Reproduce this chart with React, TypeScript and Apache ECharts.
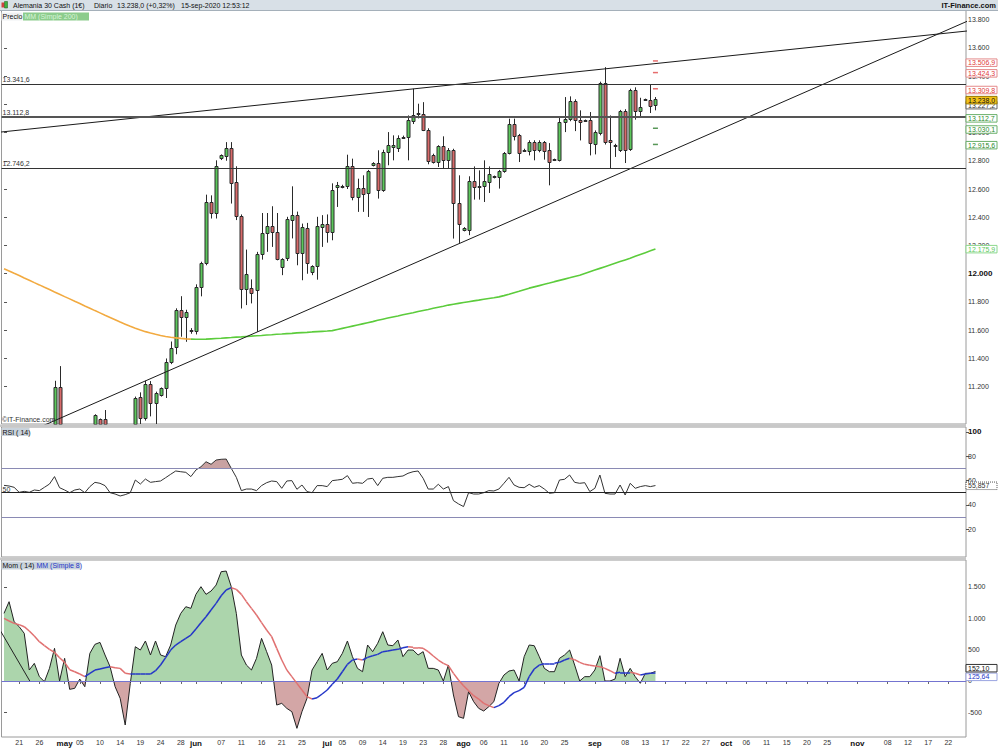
import React, { useEffect, useRef } from "react";
import * as echarts from "echarts";

const FONT = "'Liberation Sans', Arial, sans-serif";
const N_BARS = 191;
const MONTHS = ["ene", "feb", "mar", "abr", "may", "jun", "jul", "ago", "sep", "oct", "nov", "dic"];

const LABEL_DATES = [
  "2020-04-21", "2020-04-26", "2020-05-01", "2020-05-05", "2020-05-10", "2020-05-14", "2020-05-19",
  "2020-05-24", "2020-05-28", "2020-06-01", "2020-06-07", "2020-06-11", "2020-06-16", "2020-06-21",
  "2020-06-25", "2020-07-01", "2020-07-05", "2020-07-09", "2020-07-14", "2020-07-19", "2020-07-23",
  "2020-07-28", "2020-08-02", "2020-08-06", "2020-08-11", "2020-08-16", "2020-08-20", "2020-08-25",
  "2020-09-01", "2020-09-08", "2020-09-13", "2020-09-17", "2020-09-22", "2020-09-27", "2020-10-01",
  "2020-10-06", "2020-10-11", "2020-10-15", "2020-10-20", "2020-10-25", "2020-11-01", "2020-11-08",
  "2020-11-12", "2020-11-17", "2020-11-22",
];

const PRICE_TICKS = [11200, 11400, 11600, 11800, 12000, 12200, 12400, 12600, 12800, 13000, 13200, 13400, 13600, 13800];
const RSI_TICKS = [20, 40, 60, 80, 100];
const MOM_TICKS = [-500, 0, 500, 1000, 1500];

// [open, close, low, high]
const CANDLES = [
  [10520, 10640, 10480, 10800], [10640, 10650, 10620, 10670], [10650, 10680, 10580, 10760], [10640, 10250, 10200, 10660],
  [10270, 10420, 10260, 10480], [10430, 10510, 10380, 10560], [10480, 10340, 10250, 10500], [10350, 10380, 10340, 10400],
  [10420, 10660, 10400, 10700], [10680, 10800, 10640, 10900], [10820, 11196, 10780, 11242], [11196, 10860, 10820, 11346],
  [10860, 10880, 10800, 10920], [10700, 10680, 10650, 10720], [10650, 10460, 10400, 10700], [10480, 10730, 10450, 10860],
  [10740, 10610, 10580, 10800], [10620, 10760, 10600, 10900], [10780, 11000, 10760, 11005], [10968, 10930, 10900, 10975],
  [10968, 10830, 10780, 11035], [10830, 10820, 10780, 10900], [10810, 10540, 10500, 10880], [10520, 10340, 10160, 10560],
  [10350, 10470, 10300, 10560], [10500, 10540, 10480, 10560], [10560, 11118, 10540, 11130], [11125, 10977, 10900, 11160],
  [10977, 11219, 10960, 11242], [11219, 11083, 10990, 11240], [11083, 11153, 10920, 11165], [11141, 11189, 11130, 11195],
  [11190, 11377, 11120, 11400], [11377, 11474, 11360, 11520], [11479, 11742, 11430, 11755], [11742, 11695, 11554, 11841],
  [11695, 11730, 11518, 11745], [11590, 11600, 11575, 11615], [11589, 11903, 11570, 11925], [11903, 12073, 11840, 12085],
  [12073, 12508, 12060, 12560], [12508, 12430, 12391, 12555], [12426, 12761, 12391, 12803], [12815, 12838, 12805, 12845],
  [12838, 12893, 12800, 12932], [12893, 12643, 12497, 12932], [12650, 12407, 12380, 12761], [12407, 11889, 11754, 12420],
  [11889, 11997, 11778, 12171], [11900, 11867, 11790, 11960], [11884, 12138, 11589, 12155], [12138, 12289, 12100, 12430],
  [12289, 12336, 12155, 12430], [12336, 12296, 12190, 12478], [12296, 12108, 12095, 12430], [12044, 12101, 11990, 12110],
  [12108, 12386, 12090, 12403], [12386, 12419, 12250, 12619], [12419, 12148, 12060, 12440], [12148, 12331, 11954, 12355],
  [12327, 12077, 12000, 12360], [12013, 12053, 11990, 12060], [12053, 12336, 11958, 12403], [12331, 12355, 12190, 12415],
  [12355, 12296, 12220, 12420], [12296, 12591, 12237, 12640], [12614, 12626, 12473, 12650], [12615, 12622, 12605, 12630],
  [12619, 12760, 12600, 12843], [12760, 12544, 12520, 12815], [12544, 12607, 12438, 12673], [12607, 12567, 12438, 12697],
  [12567, 12725, 12402, 12735], [12768, 12784, 12760, 12790], [12784, 12591, 12532, 12874], [12591, 12862, 12580, 12878],
  [12862, 12909, 12768, 13003], [12897, 12914, 12803, 12980], [12893, 12963, 12862, 12980], [12962, 12970, 12955, 12978],
  [12968, 13086, 12803, 13121], [13081, 13121, 13060, 13310], [13128, 13138, 13100, 13204], [13133, 13020, 13010, 13215],
  [13020, 12803, 12775, 13030], [12843, 12791, 12780, 12850], [12791, 12902, 12756, 12910], [12902, 12803, 12744, 12973],
  [12803, 12874, 12744, 12890], [12878, 12501, 12249, 12885], [12501, 12350, 12218, 12697], [12308, 12324, 12300, 12330],
  [12313, 12657, 12273, 12690], [12657, 12614, 12525, 12760], [12610, 12619, 12525, 12732], [12619, 12657, 12508, 12803],
  [12650, 12709, 12572, 12760], [12680, 12690, 12675, 12695], [12680, 12725, 12603, 12735], [12725, 12855, 12715, 12862],
  [12855, 13062, 12845, 13098], [13062, 12980, 12944, 13098], [12980, 12855, 12791, 12990], [12870, 12878, 12865, 12885],
  [12869, 12933, 12838, 12945], [12933, 12874, 12803, 12945], [12874, 12933, 12860, 12945], [12933, 12869, 12808, 12940],
  [12874, 12791, 12626, 12925], [12803, 12810, 12798, 12815], [12803, 13074, 12795, 13105], [13074, 13098, 13003, 13251],
  [13098, 13223, 13080, 13256], [13223, 13091, 13010, 13235], [13091, 13080, 12944, 13157], [13080, 13086, 13075, 13092],
  [13086, 12921, 12838, 13145], [12921, 13003, 12845, 13015], [12996, 13350, 12980, 13360], [13350, 12933, 12915, 13463],
  [12944, 12932, 12744, 13121], [12905, 12912, 12827, 12920], [12874, 13152, 12862, 13160], [13152, 12878, 12784, 13165],
  [12885, 13303, 12870, 13310], [13303, 13157, 13091, 13320], [13152, 13180, 13110, 13246], [13228, 13235, 13225, 13240],
  [13232, 13192, 13138, 13340], [13192, 13238, 13157, 13251],
];

const MA200 = [
  12036, 12020, 12003, 11987, 11970, 11954, 11937, 11921, 11904, 11888,
  11871, 11855, 11838, 11822, 11805, 11789, 11772, 11756, 11739, 11723,
  11706, 11690, 11674, 11658, 11643, 11628, 11614, 11601, 11590, 11580,
  11571, 11563, 11556, 11550, 11546, 11542, 11539, 11537, 11536, 11536,
  11537, 11539, 11541, 11543, 11546, 11548, 11551, 11553, 11556, 11558,
  11561, 11563, 11566, 11568, 11571, 11573, 11576, 11578, 11581, 11583,
  11585, 11588, 11590, 11592, 11594, 11597, 11605, 11613, 11621, 11629,
  11637, 11645, 11653, 11661, 11670, 11678, 11686, 11694, 11701, 11709,
  11717, 11724, 11732, 11740, 11747, 11755, 11763, 11770, 11778, 11784,
  11790, 11796, 11802, 11808, 11813, 11819, 11825, 11830, 11836, 11845,
  11855, 11866, 11876, 11887, 11898, 11907, 11916, 11925, 11934, 11944,
  11953, 11962, 11971, 11981, 11990, 12002, 12014, 12026, 12038, 12050,
  12062, 12074, 12086, 12098, 12110, 12123, 12136, 12149, 12162, 12176,
];
const MA200_SWITCH = 37;

const H_LEVELS = [13341.6, 13112.8, 12746.2];
const RESISTANCES = [13506.9, 13424.3, 13309.8];
const SUPPORTS = [13112.7, 13030.1, 12915.6];
const PIVOT = 13227.2;
const LAST_PRICE = 13238.0;
const MA200_LAST = 12175.9;
const UPPER_TREND = [[-1, 13002], [191, 13720]];
const LOWER_TREND = [[0, 10803], [191, 13792]];

const RSI = [
  56.0, 55.5, 54.4, 50.3, 51.1, 50.3, 52.2, 51.7, 54.4, 57.1,
  63.2, 54.1, 52.2, 50.0, 52.2, 53.0, 50.0, 55.0, 58.5, 57.7,
  55.8, 50.0, 48.9, 47.3, 48.4, 50.0, 60.4, 57.1, 61.2, 58.5,
  59.1, 59.6, 62.3, 65.1, 67.8, 67.2, 66.7, 63.2, 68.6, 71.3,
  75.4, 73.3, 76.8, 77.4, 77.6, 70.0, 62.6, 51.7, 53.0, 53.0,
  51.7, 55.8, 58.2, 59.6, 59.1, 53.6, 59.6, 59.9, 52.8, 56.3,
  50.9, 50.0, 55.8, 55.8, 55.0, 59.9, 60.4, 61.0, 64.0, 57.7,
  58.2, 57.7, 61.2, 61.8, 55.8, 61.8, 62.6, 62.6, 63.2, 63.7,
  65.9, 67.2, 67.8, 61.8, 53.0, 53.0, 56.9, 53.0, 55.0, 43.5,
  40.8, 38.6, 50.0, 48.9, 48.9, 50.0, 51.7, 51.4, 53.0, 57.7,
  62.6, 56.3, 54.4, 54.1, 56.9, 54.4, 55.8, 53.0, 49.5, 50.0,
  60.4, 61.0, 64.5, 58.5, 57.7, 58.2, 50.9, 53.6, 64.5, 49.5,
  48.9, 48.9, 56.3, 48.1, 57.7, 53.6, 55.0, 55.8, 55.0, 55.857,
];
const RSI_LEVELS = [70, 50, 30];

const MOM = [
  1077, 1263, 944, 865, 759, 175, 281, 69, -11, 201,
  520, 0, 361, -133, -117, 31, -91, 440, 583, 615,
  414, 228, -91, -276, -701, -40, 546, 493, 637, 414,
  637, 414, 387, 573, 891, 1077, 1183, 1157, 1380, 1502,
  1380, 1433, 1528, 1741, 1751, 1502, 1077, 414, 254, 175,
  361, 679, 467, 254, -383, -356, -436, -489, -754, -489,
  -276, 175, 307, 440, 175, 281, 307, 440, 637, 387,
  201, 148, 573, 467, 600, 785, 573, 562, 653, 387,
  493, 493, 414, 467, 201, 201, 175, 0, 254, -223,
  -568, -595, -170, -329, -436, -478, -409, -329, -38, 95,
  159, 175, 0, 387, 573, 562, 387, 201, 148, 148,
  361, 414, 493, 254, 0, 69, 69, 175, 403, 0,
  0, 31, 361, 69, 201, 69, -37, 122, 122, 152.1,
];

const MOM_MA = [
  998, 955, 918, 897, 865, 796, 716, 626, 562, 504,
  456, 371, 297, 180, 148, 111, 69, 122, 175, 191,
  212, 228, 212, 201, 122, 111, 111, 111, 111, 111,
  164, 254, 371, 493, 573, 626, 679, 732, 828, 929,
  1024, 1130, 1236, 1358, 1449, 1486, 1459, 1380, 1263, 1157,
  1051, 929, 812, 706, 520, 334, 175, 69, -38, -144,
  -250, -287, -266, -207, -144, -53, 31, 148, 265, 334,
  350, 334, 376, 403, 424, 467, 477, 493, 504, 530,
  546, 536, 530, 520, 467, 398, 334, 281, 244, 122,
  16, -75, -154, -234, -287, -356, -393, -425, -393, -340,
  -250, -186, -154, -101, 69, 191, 254, 276, 281, 281,
  297, 334, 361, 339, 297, 265, 249, 238, 228, 201,
  164, 122, 138, 138, 138, 122, 95, 111, 122, 125.64,
];
const MOM_DIAG = [[-0.8, 812], [5.1, 0]];

function buildCategories(): string[] {
  const out: string[] = [];
  const d = new Date(Date.UTC(2020, 3, 17));
  while (out.length < N_BARS) {
    if (d.getUTCDay() !== 6) out.push(d.toISOString().slice(0, 10));
    d.setUTCDate(d.getUTCDate() + 1);
  }
  return out;
}

function fmt(v: number, dec: number): string {
  const s = Math.abs(v).toFixed(dec);
  const parts = s.split(".");
  const intF = parts[0].replace(/\B(?=(\d{3})+(?!\d))/g, ".");
  return (v < 0 ? "-" : "") + intF + (parts[1] ? "," + parts[1] : "");
}

const UP_COLOR = "#5cc85c";
const DOWN_COLOR = "#d86a6a";
const EDGE = "#2a2a2a";

export default function App() {
  const ref = useRef<HTMLDivElement>(null);

  useEffect(() => {
    document.body.style.margin = "0";
    if (!ref.current) return;
    const chart = echarts.init(ref.current, null, { renderer: "svg" });
    const CATS = buildCategories();
    const labelSet = new Set(LABEL_DATES);
    const monthStart = new Set<string>();
    let prevMonth = "";
    CATS.forEach((c) => {
      const m = c.slice(0, 7);
      if (m !== prevMonth) monthStart.add(c);
      prevMonth = m;
    });
    const labelInterval = (_i: number, v: string) => labelSet.has(v);
    const lastIdx = CANDLES.length - 1;

    const hiddenCat = (gi: number) => ({
      type: "category", gridIndex: gi, data: CATS, boundaryGap: true,
      axisLine: { show: false }, axisTick: { show: false }, axisLabel: { show: false }, splitLine: { show: false },
    });

    const yAxisBase = (gi: number, min: number, max: number, ticks: number[], boldVal: number | null, dec: number) => ({
      type: "value", gridIndex: gi, position: "right", min, max, z: 1,
      splitLine: { show: false },
      axisLine: { show: false },
      axisTick: { show: true, length: 3, customValues: ticks, lineStyle: { color: "#555" } },
      axisLabel: {
        customValues: ticks, fontSize: 7, color: "#333", margin: 2, fontFamily: FONT,
        formatter: (v: number) => (boldVal !== null && v === boldVal ? `{b|${fmt(v, dec)}}` : fmt(v, dec)),
        rich: { b: { fontWeight: "bold", fontSize: 8, color: "#111", fontFamily: FONT } },
      },
    });

    const maSegments = MOM_MA.slice(1).map((v, k) => ({
      coords: [[k, MOM_MA[k]], [k + 1, v]],
      lineStyle: { color: v >= MOM_MA[k] ? "#2436c8" : "#e07070" },
    }));

    const renderCandle = (params: any, api: any) => {
      const i = api.value(0);
      const o = api.value(1), c = api.value(2), l = api.value(3), h = api.value(4);
      const cs = params.coordSys;
      const top = cs.y, bot = cs.y + cs.height;
      const clampY = (y: number) => Math.max(top, Math.min(bot, y));
      const pO = api.coord([i, o]);
      const pC = api.coord([i, c]);
      const pL = api.coord([i, l]);
      const pH = api.coord([i, h]);
      if (pH[1] >= bot) return null;
      const cx = Math.round(pO[0]) + 0.5;
      const yH = clampY(pH[1]);
      const yL = clampY(pL[1]);
      const b1 = clampY(Math.min(pO[1], pC[1]));
      const b2 = clampY(Math.max(pO[1], pC[1]));
      const up = c >= o;
      return {
        type: "group",
        children: [
          { type: "line", shape: { x1: cx, y1: yH, x2: cx, y2: yL }, style: { stroke: EDGE, lineWidth: 1 } },
          {
            type: "rect",
            shape: { x: cx - 1.5, y: Math.round(b1) + 0.5, width: 3, height: Math.max(Math.round(b2 - b1), 1) },
            style: { fill: up ? UP_COLOR : DOWN_COLOR, stroke: EDGE, lineWidth: 1 },
          },
        ],
      };
    };

    const gridStyle = { show: true, borderColor: "#9a9a9a", borderWidth: 1, backgroundColor: "#fff", left: 1.5, right: 32 };

    const option: any = {
      animation: false,
      backgroundColor: "#ffffff",
      textStyle: { fontFamily: FONT },
      grid: [
        { ...gridStyle, top: 10.5, height: 413.5 },
        { ...gridStyle, top: 427, height: 130 },
        { ...gridStyle, top: 560, height: 177 },
      ],
      xAxis: [
        hiddenCat(0),
        hiddenCat(1),
        {
          type: "category", gridIndex: 2, data: CATS, boundaryGap: true,
          axisLine: { show: true, lineStyle: { color: "#9a9a9a" } },
          axisTick: { show: true, interval: labelInterval, alignWithLabel: true, length: 3, lineStyle: { color: "#666" } },
          axisLabel: {
            interval: labelInterval, fontSize: 7, color: "#333", margin: 2, fontFamily: FONT,
            formatter: (v: string) => (monthStart.has(v) ? `{m|${MONTHS[+v.slice(5, 7) - 1]}}` : v.slice(8, 10)),
            rich: { m: { fontWeight: "bold", fontSize: 8, color: "#111", fontFamily: FONT } },
          },
          splitLine: { show: false },
        },
        { type: "value", gridIndex: 0, min: -0.5, max: N_BARS - 0.5, show: false },
        { type: "value", gridIndex: 2, min: -0.5, max: N_BARS - 0.5, show: false },
      ],
      yAxis: [
        yAxisBase(0, 10936, 13864, PRICE_TICKS, 12000, 0),
        yAxisBase(1, -2.77, 103.9, RSI_TICKS, 100, 0),
        yAxisBase(2, -892, 1927, MOM_TICKS, null, 0),
      ],
      visualMap: [
        {
          type: "piecewise", show: false, seriesIndex: 6, dimension: 1,
          pieces: [{ gt: 70, lte: 1000, color: "#c9a2a2" }, { gt: -1000, lte: 70, color: "rgba(255,255,255,0)" }],
          outOfRange: { color: "rgba(255,255,255,0)" },
        },
        {
          type: "piecewise", show: false, seriesIndex: 7, dimension: 1,
          pieces: [{ gt: 0, lte: 100000, color: "#acd5ac" }, { gt: -100000, lte: 0, color: "#d3a6a6" }],
          outOfRange: { color: "#acd5ac" },
        },
      ],
      series: [
        {
          type: "custom", xAxisIndex: 0, yAxisIndex: 0, z: 2,
          data: CANDLES.map((c, i) => [i, c[0], c[1], c[2], c[3]]),
          encode: { x: 0, y: [1, 2, 3, 4] },
          renderItem: renderCandle,
          markLine: {
            silent: true, symbol: ["none", "none"], animation: false,
            data: H_LEVELS.map((v, k) => ({
              yAxis: v,
              lineStyle: { color: k === 1 ? "#555" : "#333", width: k === 1 ? 2 : 1, type: "solid" },
              label: {
                show: true, position: "insideStartTop", distance: [1, 1], formatter: fmt(v, 1),
                fontSize: 7, color: "#333", fontFamily: FONT,
              },
            })),
          },
        },
        {
          type: "line", xAxisIndex: 0, yAxisIndex: 0, showSymbol: false, z: 3,
          data: MA200.map((v, i) => (i <= MA200_SWITCH ? v : null)),
          lineStyle: { color: "#f2aa40", width: 1.6 },
        },
        {
          type: "line", xAxisIndex: 0, yAxisIndex: 0, showSymbol: false, z: 3,
          data: MA200.map((v, i) => (i >= MA200_SWITCH ? v : null)),
          lineStyle: { color: "#5ccc3c", width: 1.6 },
        },
        {
          type: "line", xAxisIndex: 3, yAxisIndex: 0, showSymbol: false, z: 4, clip: true,
          data: UPPER_TREND, lineStyle: { color: "#1a1a1a", width: 1 },
        },
        {
          type: "line", xAxisIndex: 3, yAxisIndex: 0, showSymbol: false, z: 4, clip: true,
          data: LOWER_TREND, lineStyle: { color: "#1a1a1a", width: 1 },
        },
        {
          type: "scatter", xAxisIndex: 0, yAxisIndex: 0, symbol: "rect", symbolSize: [5, 1.5], z: 4,
          data: [
            ...RESISTANCES.map((v) => ({ value: [lastIdx, v], itemStyle: { color: "#e04848" } })),
            ...SUPPORTS.slice(1).map((v) => ({ value: [lastIdx, v], itemStyle: { color: "#2e7d2e" } })),
          ],
        },
        {
          type: "line", xAxisIndex: 1, yAxisIndex: 1, showSymbol: false, z: 3,
          data: RSI.map((v, i) => [i, v]),
          lineStyle: { color: "#333", width: 1 },
          areaStyle: { origin: 70, opacity: 1 },
          markLine: {
            silent: true, symbol: ["none", "none"], animation: false,
            data: RSI_LEVELS.map((v) => ({
              yAxis: v,
              lineStyle: { color: v === 50 ? "#222" : "#8a8ab4", width: 1, type: "solid" },
              label: v === 50
                ? { show: true, position: "insideStartTop", distance: [1, 0], formatter: "50", fontSize: 7, color: "#333", fontFamily: FONT }
                : { show: false },
            })),
          },
        },
        {
          type: "line", xAxisIndex: 2, yAxisIndex: 2, showSymbol: false, z: 3,
          data: MOM.map((v, i) => [i, v]),
          lineStyle: { color: "#222", width: 1 },
          areaStyle: { origin: 0, opacity: 1 },
          markLine: {
            silent: true, symbol: ["none", "none"], animation: false,
            data: [{ yAxis: 0, lineStyle: { color: "#7474d0", width: 1, type: "solid" }, label: { show: false } }],
          },
        },
        {
          type: "lines", coordinateSystem: "cartesian2d", xAxisIndex: 4, yAxisIndex: 2, z: 5,
          polyline: false, data: maSegments, lineStyle: { width: 1.5, opacity: 1 },
        },
        {
          type: "line", xAxisIndex: 4, yAxisIndex: 2, showSymbol: false, z: 4,
          data: MOM_DIAG, lineStyle: { color: "#222", width: 1 },
        },
      ],
    };

    chart.setOption(option);

    const yPix = (axis: number, v: number) => chart.convertToPixel({ yAxisIndex: axis }, v) as number;
    const box = (axis: number, value: number, text: string, o: any, dy = 0, z = 100) => {
      const y = yPix(axis, value) + dy;
      return {
        type: "group", x: 966, y, z,
        children: [
          {
            type: "rect", z, shape: { x: 0, y: -3.5, width: 31, height: 7.5 },
            style: { fill: o.bg || "#fff", stroke: o.border, lineWidth: 1, lineDash: o.dash || null },
          },
          {
            type: "text", z: z + 1, x: 2, y: 0.3,
            style: { text, fill: o.color, fontSize: 7, fontFamily: FONT, verticalAlign: "middle", textAlign: "left" },
          },
        ],
      };
    };
    const txt = (x: number, y: number, text: string, fill: string, size = 7, weight = "normal", align = "left") => ({
      type: "text", x, y, z: 90,
      style: { text, fill, fontSize: size, fontWeight: weight, fontFamily: FONT, verticalAlign: "middle", textAlign: align },
    });

    const graphic: any[] = [
      { type: "rect", shape: { x: 0, y: 0, width: 998, height: 10.5 }, style: { fill: "#d8e0e7" }, z: 80 },
      { type: "line", shape: { x1: 0, y1: 10.5, x2: 998, y2: 10.5 }, style: { stroke: "#a5b0ba", lineWidth: 1 }, z: 81 },
      { type: "rect", shape: { x: 1.5, y: 2.5, width: 3, height: 5 }, style: { fill: "#d04040" }, z: 82 },
      { type: "rect", shape: { x: 4.5, y: 1.5, width: 3, height: 6.5 }, style: { fill: "#40b040", stroke: "#1a5a1a", lineWidth: 0.5 }, z: 82 },
      txt(13, 5.5, "Alemania 30 Cash (1€)", "#111", 7),
      txt(94, 5.5, "Diario", "#111", 7),
      txt(117, 5.5, "13.238,0 (+0,32%)", "#111", 7),
      txt(181, 5.5, "15-sep-2020 12:53:12", "#111", 7),
      txt(996, 5.5, "IT-Finance.com", "#111", 7.5, "bold", "right"),
      { type: "rect", shape: { x: 1.5, y: 12.5, width: 21, height: 8 }, style: { fill: "#eef0f2" }, z: 85 },
      txt(2.5, 16.8, "Precio", "#111", 7),
      { type: "rect", shape: { x: 23, y: 12.5, width: 66, height: 8 }, style: { fill: "#8ccc8c" }, z: 85 },
      txt(24.5, 16.8, "MM (Simple 200)", "#d8f4d8", 7),
      txt(2, 419.5, "©IT-Finance.com", "#333", 7),
      { type: "rect", shape: { x: 0, y: 424.5, width: 966, height: 2.5 }, style: { fill: "#c8c8c8" }, z: 70 },
      { type: "rect", shape: { x: 0, y: 557.5, width: 966, height: 2.5 }, style: { fill: "#c8c8c8" }, z: 70 },
      { type: "rect", shape: { x: 1.5, y: 428, width: 28, height: 8 }, style: { fill: "#c9d3dc" }, z: 85 },
      txt(2.5, 432.3, "RSI ( 14)", "#111", 7),
      { type: "rect", shape: { x: 1.5, y: 561.5, width: 79, height: 8 }, style: { fill: "#c9d3dc" }, z: 85 },
      txt(2.5, 565.8, "Mom ( 14)", "#111", 7),
      txt(36.5, 565.8, "MM (Simple 8)", "#2436c8", 7),
      box(0, RESISTANCES[0], fmt(RESISTANCES[0], 1), { color: "#e03a3a", border: "#e48a8a" }, 1.5),
      box(0, RESISTANCES[1], fmt(RESISTANCES[1], 1), { color: "#e03a3a", border: "#e48a8a" }, 0.5),
      box(0, RESISTANCES[2], fmt(RESISTANCES[2], 1), { color: "#e03a3a", border: "#e48a8a" }, 1),
      box(0, PIVOT, fmt(PIVOT, 1), { color: "#333", border: "#666" }, 4.5, 100),
      box(0, LAST_PRICE, fmt(LAST_PRICE, 1), { color: "#111", border: "#9a7a00", bg: "#f2c21a" }, 1, 110),
      box(0, SUPPORTS[0], fmt(SUPPORTS[0], 1), { color: "#2e8b2e", border: "#6ab06a" }, 1.5),
      box(0, SUPPORTS[1], fmt(SUPPORTS[1], 1), { color: "#2e8b2e", border: "#6ab06a" }, 1),
      box(0, SUPPORTS[2], fmt(SUPPORTS[2], 1), { color: "#2e8b2e", border: "#6ab06a" }, 0.5),
      box(0, MA200_LAST, fmt(MA200_LAST, 1), { color: "#5cc85c", border: "#8cd88c" }, 0),
      box(1, RSI[RSI.length - 1], fmt(RSI[RSI.length - 1], 3), { color: "#333", border: "#555", dash: [1, 1] }, 0),
      box(2, MOM_MA[MOM_MA.length - 1], fmt(MOM_MA[MOM_MA.length - 1], 2), { color: "#2436c8", border: "#9aa4e0" }, 3.5),
      box(2, MOM[MOM.length - 1], fmt(MOM[MOM.length - 1], 2), { color: "#111", border: "#333" }, -3.5, 110),
    ];
    chart.setOption({ graphic });

    return () => chart.dispose();
  }, []);

  return <div ref={ref} style={{ width: 998, height: 749 }} />;
}
